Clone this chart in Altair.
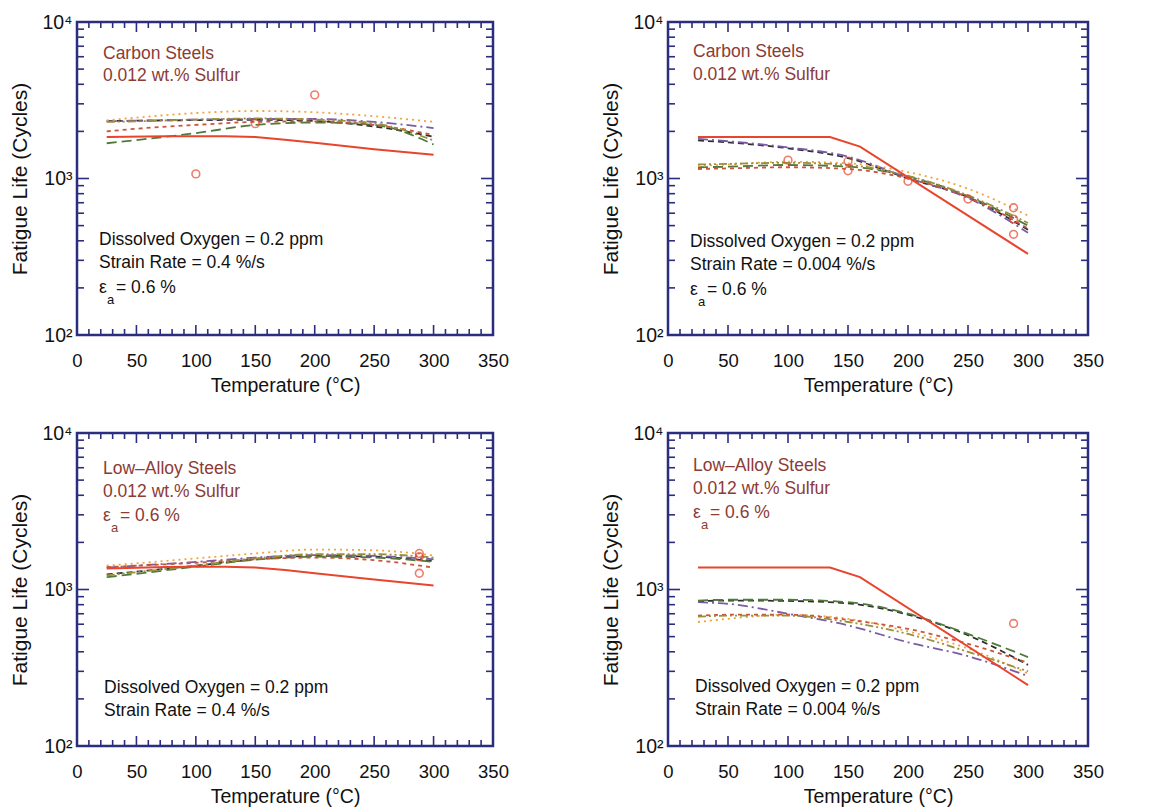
import altair as alt
import pandas as pd

# ---------------- data ----------------
T_MODEL = [25, 50, 100, 150, 200, 250, 300]
SERIES = ["m1", "m2", "m3", "m4", "m5", "m6"]

# Panel A: Carbon steels, 0.4 %/s
A_M1 = [2330, 2340, 2360, 2370, 2330, 2150, 1850]
A_M2 = [1680, 1760, 1950, 2200, 2280, 2200, 1650]
A_M3 = [2320, 2340, 2380, 2400, 2400, 2300, 2100]
A_M4 = [2350, 2450, 2620, 2700, 2650, 2500, 2300]
A_M5 = [2000, 2080, 2200, 2300, 2320, 2200, 1900]
A_M6 = [2300, 2320, 2380, 2420, 2380, 2250, 1750]
A_RED_T = [25, 75, 125, 150, 175, 200, 250, 300]
A_RED_N = [1840, 1860, 1860, 1840, 1770, 1690, 1540, 1420]
A_PT_T = [100, 150, 200]
A_PT_N = [1070, 2240, 3420]

# Panel B: Carbon steels, 0.004 %/s
B_M1 = [1750, 1700, 1560, 1350, 1000, 760, 470]
B_M2 = [1180, 1190, 1220, 1190, 1030, 770, 500]
B_M3 = [1790, 1730, 1580, 1380, 1010, 750, 450]
B_M4 = [1200, 1230, 1280, 1250, 1100, 860, 580]
B_M5 = [1150, 1160, 1180, 1150, 1000, 760, 480]
B_M6 = [1230, 1240, 1260, 1220, 1040, 780, 520]
B_RED_T = [25, 135, 160, 300]
B_RED_N = [1840, 1840, 1600, 330]
B_PT_T = [100, 150, 150, 200, 250, 288, 288, 288]
B_PT_N = [1310, 1290, 1120, 960, 740, 650, 550, 440]

# Panel C: Low-alloy steels, 0.4 %/s
C_M1 = [1250, 1300, 1420, 1560, 1640, 1620, 1520]
C_M2 = [1200, 1260, 1400, 1550, 1620, 1600, 1500]
C_M3 = [1380, 1420, 1500, 1600, 1660, 1640, 1560]
C_M4 = [1420, 1470, 1580, 1700, 1800, 1780, 1650]
C_M5 = [1390, 1420, 1480, 1560, 1600, 1540, 1380]
C_M6 = [1230, 1290, 1420, 1580, 1680, 1680, 1600]
C_RED_T = [25, 75, 100, 125, 150, 175, 200, 250, 300]
C_RED_N = [1360, 1390, 1400, 1400, 1380, 1330, 1270, 1160, 1060]
C_PT_T = [288, 288, 288]
C_PT_N = [1700, 1620, 1270]

# Panel D: Low-alloy steels, 0.004 %/s
D_M1 = [840, 850, 845, 815, 690, 510, 330]
D_M2 = [850, 860, 860, 830, 700, 520, 370]
D_M3 = [830, 810, 700, 590, 460, 375, 280]
D_M4 = [620, 650, 690, 650, 540, 420, 290]
D_M5 = [680, 690, 690, 640, 560, 450, 340]
D_M6 = [670, 680, 680, 620, 520, 400, 300]
D_RED_T = [25, 135, 160, 300]
D_RED_N = [1380, 1380, 1200, 245]
D_PT_T = [288]
D_PT_N = [606]

X_LABELS = [0, 50, 100, 150, 200, 250, 300, 350]
X_MINOR = [t for t in range(10, 350, 10) if t % 50 != 0]
Y_MAJOR = [100, 1000, 10000]
Y_MINOR = [k * 10 ** e for e in (2, 3) for k in range(2, 10)]

# ---------------- style ----------------
H = 313
FONT = "Liberation Sans"
FRAME = "#2b2e7e"
COLORS = ["#2f2f2f", "#4f7a3a", "#7b5aa6", "#f2a33a", "#c8553d", "#9a8f3c"]
DASHES = [[6, 4], [10, 5], [10, 4, 2, 4], [2, 4], [4, 4], [8, 3, 2, 3, 2, 3]]
RED = "#e8452c"
LABEL_RED = "#8c3b35"

ONE = pd.DataFrame({"a": [0]})
xs = alt.Scale(domain=[0, 350], nice=False, zero=False)
ys = alt.Scale(type="log", domain=[100, 10000], nice=False)
XAXIS = alt.Axis(
    values=X_LABELS, ticks=False, domain=False, grid=False, labelFontSize=18.5,
    labelPadding=16, labelFlush=False, labelOverlap=False, labelBound=False,
    title="Temperature (°C)", titleFontSize=19.5, titlePadding=7,
)
YAXIS = alt.Axis(
    values=Y_MAJOR, ticks=False, domain=False, grid=False, labelFontSize=19.5,
    labelPadding=5, labelOverlap=False, labelBound=False,
    labelExpr="datum.value == 10000 ? '10⁴' : datum.value == 1000 ? '10³' : '10²'",
    title="Fatigue Life (Cycles)", titleFontSize=21, titlePadding=11,
)


def X():
    return alt.X("T:Q", scale=xs, axis=XAXIS)


def Y():
    return alt.Y("N:Q", scale=ys, axis=YAXIS)


def txt(s, x, y, size=17.5, color="#111111"):
    return alt.Chart(ONE).mark_text(
        align="left", baseline="middle", fontSize=size, color=color, font=FONT
    ).encode(x=alt.value(x), y=alt.value(y), text=alt.value(s))


def eps(x, y, color):
    return [
        txt("ε", x, y, 17.5, color),
        txt("a", x + 8, y + 12, 13, color),
        txt("= 0.6 %", x + 17, y, 17.5, color),
    ]


def panel(curves, red_t, red_n, pt_t, pt_n, texts, W):
    rows = []
    for name, vals in zip(SERIES, curves):
        for t, n in zip(T_MODEL, vals):
            rows.append({"T": t, "N": n, "s": name})
    df = pd.DataFrame(rows)
    lines = alt.Chart(df).mark_line(strokeWidth=1.8, interpolate="monotone").encode(
        x=X(), y=Y(),
        color=alt.Color("s:N", scale=alt.Scale(domain=SERIES, range=COLORS), legend=None),
        strokeDash=alt.StrokeDash("s:N", scale=alt.Scale(domain=SERIES, range=DASHES), legend=None),
    )
    red = alt.Chart(pd.DataFrame({"T": red_t, "N": red_n})).mark_line(
        color=RED, strokeWidth=2
    ).encode(x=X(), y=Y())
    pts = alt.Chart(pd.DataFrame({"T": pt_t, "N": pt_n})).mark_point(
        shape="circle", filled=False, color=RED, size=60, strokeWidth=1.6
    ).encode(x=X(), y=Y())

    tick_layers = []
    for vals, ln in ((X_LABELS, 10), (X_MINOR, 6)):
        d = alt.Chart(pd.DataFrame({"T": vals}))
        tick_layers.append(d.mark_rule(color=FRAME, strokeWidth=1.6).encode(
            x=X(), y=alt.value(H), y2=alt.value(H - ln)))
        tick_layers.append(d.mark_rule(color=FRAME, strokeWidth=1.6).encode(
            x=X(), y=alt.value(0), y2=alt.value(ln)))
    for vals, ln in ((Y_MAJOR, 12), (Y_MINOR, 7)):
        d = alt.Chart(pd.DataFrame({"N": vals}))
        tick_layers.append(d.mark_rule(color=FRAME, strokeWidth=1.6).encode(
            y=Y(), x=alt.value(0), x2=alt.value(ln)))
        tick_layers.append(d.mark_rule(color=FRAME, strokeWidth=1.6).encode(
            y=Y(), x=alt.value(W), x2=alt.value(W - ln)))

    return alt.layer(lines, *tick_layers, red, pts, *texts).properties(width=W, height=H)


pA = panel([A_M1, A_M2, A_M3, A_M4, A_M5, A_M6], A_RED_T, A_RED_N, A_PT_T, A_PT_N, [
    txt("Carbon Steels", 26, 32, 17.5, LABEL_RED),
    txt("0.012 wt.% Sulfur", 26, 54, 17.5, LABEL_RED),
    txt("Dissolved Oxygen = 0.2 ppm", 22, 218),
    txt("Strain Rate = 0.4 %/s", 22, 241),
    *eps(22, 266, "#111111"),
], 416)
pB = panel([B_M1, B_M2, B_M3, B_M4, B_M5, B_M6], B_RED_T, B_RED_N, B_PT_T, B_PT_N, [
    txt("Carbon Steels", 25, 30, 17.5, LABEL_RED),
    txt("0.012 wt.% Sulfur", 25, 53, 17.5, LABEL_RED),
    txt("Dissolved Oxygen = 0.2 ppm", 22, 220),
    txt("Strain Rate = 0.004 %/s", 22, 243),
    *eps(22, 268, "#111111"),
], 420)
pC = panel([C_M1, C_M2, C_M3, C_M4, C_M5, C_M6], C_RED_T, C_RED_N, C_PT_T, C_PT_N, [
    txt("Low–Alloy Steels", 26, 36, 17.5, LABEL_RED),
    txt("0.012 wt.% Sulfur", 26, 59, 17.5, LABEL_RED),
    *eps(26, 83, LABEL_RED),
    txt("Dissolved Oxygen = 0.2 ppm", 27, 255),
    txt("Strain Rate = 0.4 %/s", 27, 278),
], 416)
pD = panel([D_M1, D_M2, D_M3, D_M4, D_M5, D_M6], D_RED_T, D_RED_N, D_PT_T, D_PT_N, [
    txt("Low–Alloy Steels", 25, 33, 17.5, LABEL_RED),
    txt("0.012 wt.% Sulfur", 25, 56, 17.5, LABEL_RED),
    *eps(25, 80, LABEL_RED),
    txt("Dissolved Oxygen = 0.2 ppm", 27, 254),
    txt("Strain Rate = 0.004 %/s", 27, 277),
], 420)

chart = alt.vconcat(
    alt.hconcat(pA, pB, spacing=89),
    alt.hconcat(pC, pD, spacing=89),
    spacing=24,
).properties(
    padding={"left": 0, "top": 2, "right": 0, "bottom": 0}
).configure_view(
    stroke=FRAME, strokeWidth=2.5
).configure_axis(
    labelFont=FONT, titleFont=FONT, titleFontWeight="normal",
    labelColor="#111111", titleColor="#111111",
)

chart.save("out.html", embed_options={"renderer": "svg", "actions": False})
